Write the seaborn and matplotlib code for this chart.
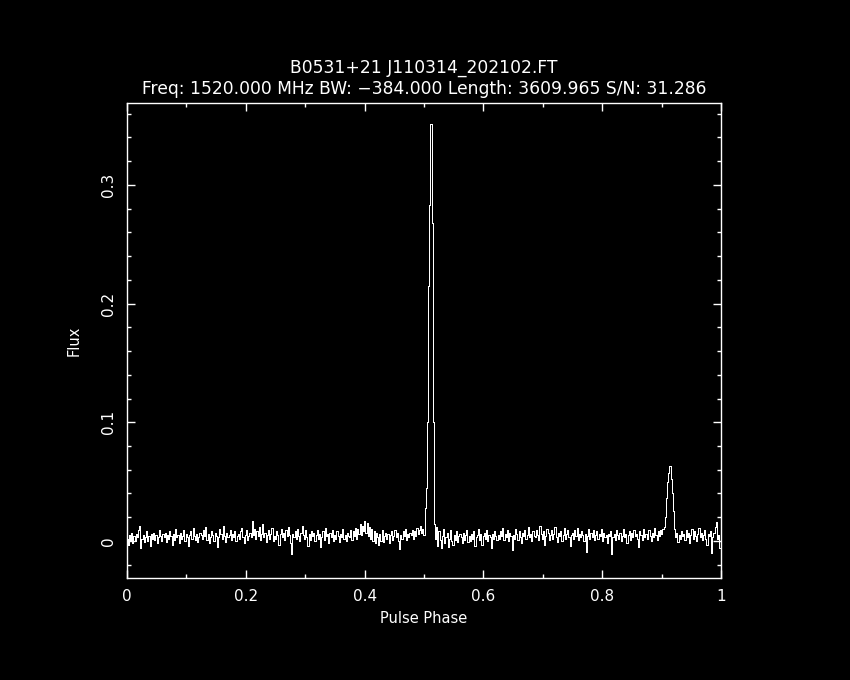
import numpy as np
import pandas as pd
import matplotlib
matplotlib.use("Agg")
import matplotlib.pyplot as plt
import seaborn as sns
from matplotlib.ticker import MultipleLocator

# Profilens titlar
source_name = "B0531+21 J110314_202102.FT"
obs_info = "Freq: 1520.000 MHz BW: \u2212384.000 Length: 3609.965 S/N: 31.286"

# Flux per fasbin (512 bins), avläst i enheter av 1e-3
flux_milli = [
    2, -3, 5, 1, 7, -2, 4, 0, 6, 3, 9, 13, -6, 2, 5, -1, 3, 8, 0, 4, -4, 6, 2, 7, 1, 5, -2, 3, 9, 4, 0, 6,
    3, 7, -1, 5, 2, 8, 4, -3, 6, 1, 10, 3, 5, -2, 7, 2, 4, 9, 0, 6, 3, -4, 5, 8, 2, 11, 4, 1, 6, -1, 3, 7,
    5, 2, 9, 4, 12, 1, 6, -2, 3, 8, 5, 0, 7, 4, -5, 3, 10, 6, 2, 13, 4, -1, 7, 3, 5, 9, 1, 6, 3, 8, 0, 4,
    6, 2, 8, 11, 3, -2, 5, 9, 1, 4, 7, 3, 17, 5, 10, 2, 8, 4, 12, 1, 6, 14, 3, 7, -1, 5, 9, 2, 6, 11, 0, 4,
    2, 8, 5, -3, 6, 10, 3, 7, 1, 9, 4, 12, 5, -2, -11, 6, 3, 8, 2, 10, 4, 0, 7, 13, 5, 2, 9, 3, -4, 6, 1, 8,
    4, 7, 0, 5, 9, 2, 6, -5, 3, 8, 1, 11, 4, 6, -2, 7, 3, 9, 0, 5, 2, 8, 4, -1, 6, 3, 10, 2, 5, 0, 7, 4,
    3, 9, 1, 8, 4, 11, 2, 10, 6, 14, 5, 13, 8, 17, 7, 15, 4, 12, 2, 10, 0, 8, -2, 7, 3, -3, 6, 0, 9, -1, 4, 7,
    2, 6, -2, 5, 8, 1, 4, 9, 3, 7, 0, -7, 5, 2, 8, 4, 10, 1, 6, 3, 7, 5, 9, 2, 8, 4, 11, 6, 9, 13, 7, 10,
    5, 28, 45, 100, 215, 283, 351, 268, 100, 14, 2, 12, -4, 8, 1, -6, 4, 10, -2, 3, 7, -5, 2, 9, 0, -3, 5, 1, 8, -1, 4, 6,
    3, -2, 7, 1, 5, 9, -1, 4, 0, 6, 2, 8, -4, 3, 5, 10, 1, 6, -3, 4, 7, 2, 9, 0, 5, 3, -6, 6, 2, 8, 4, 1,
    5, 2, 8, 4, 11, 1, 6, 3, 9, 0, 7, 4, -8, 5, 2, 10, 6, 1, 8, 3, -2, 7, 4, 9, 2, 5, 12, 3, 6, 0, 8, 4,
    3, 9, 5, 1, 13, 6, 2, 8, -3, 4, 10, 7, 1, 5, 9, 2, 6, 12, 3, -1, 7, 4, 8, 0, 5, 11, 2, 6, 9, 3, -4, 5,
    7, 2, 9, 4, 11, 1, 6, 3, 8, 5, 0, 6, -9, 4, 10, 2, 7, 3, 9, 1, 5, 8, 2, 6, 4, 10, 0, 7, 3, 5, -2, 6,
    4, 8, -11, 3, 6, 1, 9, 5, 2, 7, 0, 4, 10, 3, 6, -2, 5, 8, 1, 7, 3, 9, 4, 6, 2, -5, 8, 5, 1, 10, 3, 6,
    6, 2, 9, 4, 0, 7, 3, 11, 5, 1, 8, 4, 9, 6, 10, 12, 20, 36, 50, 57, 63, 52, 40, 25, 10, 3, 7, -1, 5, 2, 8, 4,
    6, 1, 9, 3, 7, -2, 5, 10, 2, 8, 4, 0, 6, 11, 3, 7, 1, 5, 9, 2, -3, 6, 4, 8, -10, 3, 7, 12, 16, 2, 5, -6,
]

n_bins = len(flux_milli)
phase = np.arange(n_bins) / n_bins
df = pd.DataFrame({"phase": phase, "flux": np.array(flux_milli) / 1000.0})

sns.set_theme(style="ticks")
plt.rcParams.update({
    "figure.facecolor": "black",
    "axes.facecolor": "black",
    "axes.edgecolor": "white",
    "text.color": "white",
    "xtick.color": "white",
    "ytick.color": "white",
    "axes.labelcolor": "white",
})
plt.rcParams["font.family"] = ["DejaVu Sans"]

fig = plt.figure(figsize=(8.5, 6.8), dpi=100)
ax = fig.add_axes([0.1494, 0.15, 0.6988, 0.6985])

sns.lineplot(data=df, x="phase", y="flux", ax=ax, color="white", linewidth=0.72,
             drawstyle="steps-mid", antialiased=False)

ax.set_xlim(0, 1)
ax.set_ylim(-0.0312, 0.369)
ax.xaxis.set_major_locator(MultipleLocator(0.2))
ax.xaxis.set_minor_locator(MultipleLocator(0.1))
ax.yaxis.set_major_locator(MultipleLocator(0.1))
ax.yaxis.set_minor_locator(MultipleLocator(0.02))
ax.xaxis.set_major_formatter(plt.FuncFormatter(lambda v, p: f"{v:g}"))
ax.yaxis.set_major_formatter(plt.FuncFormatter(lambda v, p: f"{v:g}"))

ax.tick_params(which="both", direction="in", top=True, right=True,
               colors="white", width=1)
ax.tick_params(which="major", length=6, labelsize=11)
ax.tick_params(which="minor", length=3)
ax.tick_params(axis="x", pad=8)
ax.tick_params(axis="y", pad=8)
for lbl in ax.get_yticklabels():
    lbl.set_rotation(90)
    lbl.set_va("center")
for s in ax.spines.values():
    s.set_color("white")
    s.set_linewidth(1)

ax.set_xlabel("Pulse Phase", fontsize=10.5, labelpad=5)
ax.set_ylabel("Flux", fontsize=10.5, labelpad=14)

fig.text(0.4988, 1 - 68 / 680, source_name, ha="center", va="center",
         fontsize=12.3, color="white")
fig.text(0.4988, 1 - 89 / 680, obs_info, ha="center", va="center",
         fontsize=12.3, color="white")

fig.savefig("out.png", dpi=100, facecolor="black")
